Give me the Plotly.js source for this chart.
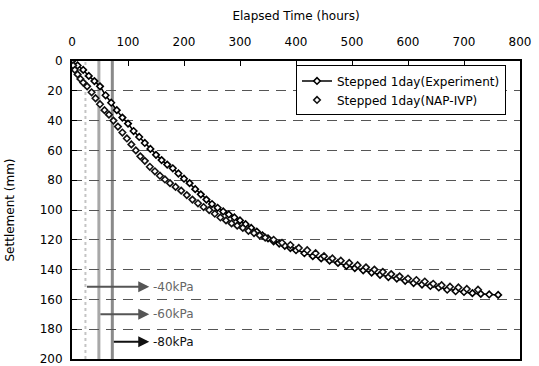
<!DOCTYPE html>
<html>
<head>
<meta charset="utf-8">
<script src="https://cdn.plot.ly/plotly-3.0.1.min.js"></script>
<style>html,body{margin:0;padding:0;background:#fff;}#chart{width:539px;height:366px;}</style>
</head>
<body>
<div id="chart"></div>
<script>
// Experiment series (hours, settlement mm)
const expHours = [0,10,20,30,40,50,60,70,80,90,100,110,120,130,140,150,160,170,180,190,200,210,220,230,240,250,260,270,280,290,300,310,320,330,340,350,360,370,380,390,400,415,430,445,460,475,490,505,520,535,550,565,580,595,610,625,640,655,670,685,700,715,730,745,761];
const expSettle = [0,3,6,10,13.5,17,23,28,33,38,42,47,51,55,59,63,66.5,69.5,72,75.5,79,82,86,89.5,93,96,98.5,101,103,105,107,109.5,112,114.5,117,119,121,122.5,124,125.5,127,129,131,132.5,134,135.5,137.5,139,140.5,142,143.5,145,146,147.5,149,150,151,152,153.5,154.5,155,155.8,156.3,156.7,157];
// NAP-IVP series
const napHours = [0,2,5,10,15,20,27,35,42,50,58,66,74,82,90,98,106,114,122,130,139,148,157,166,175,185,195,205,215,225,235,245,255,265,275,285,295,305,315,325,335,345,360,375,390,405,420,435,450,465,480,495,510,525,540,555,570,585,600,615,630,645,660,675,690,705,725];
const napSettle = [0,3,6,9,12,14.5,17,21,25,29,33,36,40,44,48,52,56,60,64,67,71,74,77,79.5,82,84.5,87,90,93,95.5,98,100,102.5,105,107,109,110.5,112,114,115.5,117,118.5,120,122,123.5,125.5,127,129,131,132.5,134,135.5,137,138.5,140,141.5,143,144.5,146,147,148,149.5,150.5,151.5,152,153,153.5];
// Loading steps
const stepHours = [24,48,72];
const stepArrowY = [151.5,170,188.5];
const stepArrowEnd = [138,138,138];
const stepLabels = ['-40kPa','-60kPa','-80kPa'];
const xTicks = [0,100,200,300,400,500,600,700,800];
const yTicks = [0,20,40,60,80,100,120,140,160,180,200];

const font = 'DejaVu Sans, Verdana, sans-serif';
const lineColors = ['#c4c4c4','#a8a8a8','#8a8a8a'];
const lineWidths = [2,3,3];
const arrowColors = ['#555555','#555555','#111111'];
const textColors = ['#666666','#666666','#111111'];

const traces = [
  {x: expHours, y: expSettle, name: 'Stepped 1day(Experiment)', mode: 'lines+markers',
   line: {color: '#000', width: 1.5},
   marker: {symbol: 'diamond', size: 5, color: '#fff', line: {color: '#000', width: 1.6}}},
  {x: napHours, y: napSettle, name: 'Stepped 1day(NAP-IVP)', mode: 'markers',
   marker: {symbol: 'diamond', size: 5, color: '#fff', line: {color: '#111', width: 1.6}}}
];

const shapes = stepHours.map((h,i) => ({
  type: 'line', xref: 'x', yref: 'paper', x0: h, x1: h, y0: 0, y1: 1,
  line: {color: lineColors[i], width: lineWidths[i], dash: i === 0 ? 'dot' : 'solid'}, layer: 'below'
}));

const annotations = [];
stepHours.forEach((h,i) => {
  annotations.push({x: stepArrowEnd[i], y: stepArrowY[i], ax: h, ay: stepArrowY[i], axref: 'x', ayref: 'y',
    xref: 'x', yref: 'y', text: '', showarrow: true, arrowhead: 2, arrowsize: 1.1, arrowwidth: 2, arrowcolor: arrowColors[i]});
  annotations.push({x: stepArrowEnd[i], y: stepArrowY[i], xref: 'x', yref: 'y', text: stepLabels[i],
    showarrow: false, xanchor: 'left', xshift: 2, font: {family: font, size: 12, color: textColors[i]}});
});

const layout = {
  width: 539, height: 366,
  margin: {l: 72, r: 19, t: 61, b: 7},
  paper_bgcolor: '#fff', plot_bgcolor: '#fff',
  showlegend: true,
  legend: {x: 0.5, y: 0.985, xanchor: 'left', yanchor: 'top', bgcolor: '#fff', bordercolor: '#000', borderwidth: 1,
    font: {family: font, size: 12, color: '#000'}, tracegroupgap: 0},
  xaxis: {side: 'top', range: [0, 800], tickvals: xTicks, ticks: 'inside', ticklen: 5, tickcolor: '#000',
    showline: true, linecolor: '#000', linewidth: 2, mirror: true, showgrid: false, zeroline: false,
    ticklabelstandoff: 8,
    tickfont: {family: font, size: 12, color: '#000'},
    title: {text: 'Elapsed Time (hours)', font: {family: font, size: 12, color: '#000'}, standoff: 12}},
  yaxis: {range: [200, 0], tickvals: yTicks, ticks: 'inside', ticklen: 5, tickcolor: '#000',
    showline: true, linecolor: '#000', linewidth: 2, mirror: true, zeroline: false,
    showgrid: true, gridcolor: '#555', griddash: '10px,7px', gridwidth: 1,
    ticklabelstandoff: 5, ticklabeloverflow: 'allow',
    tickfont: {family: font, size: 12, color: '#000'},
    title: {text: 'Settlement (mm)', font: {family: font, size: 12, color: '#000'}, standoff: 22}},
  shapes: shapes,
  annotations: annotations
};

Plotly.newPlot('chart', traces, layout, {displayModeBar: false, staticPlot: true});
</script>
</body>
</html>
